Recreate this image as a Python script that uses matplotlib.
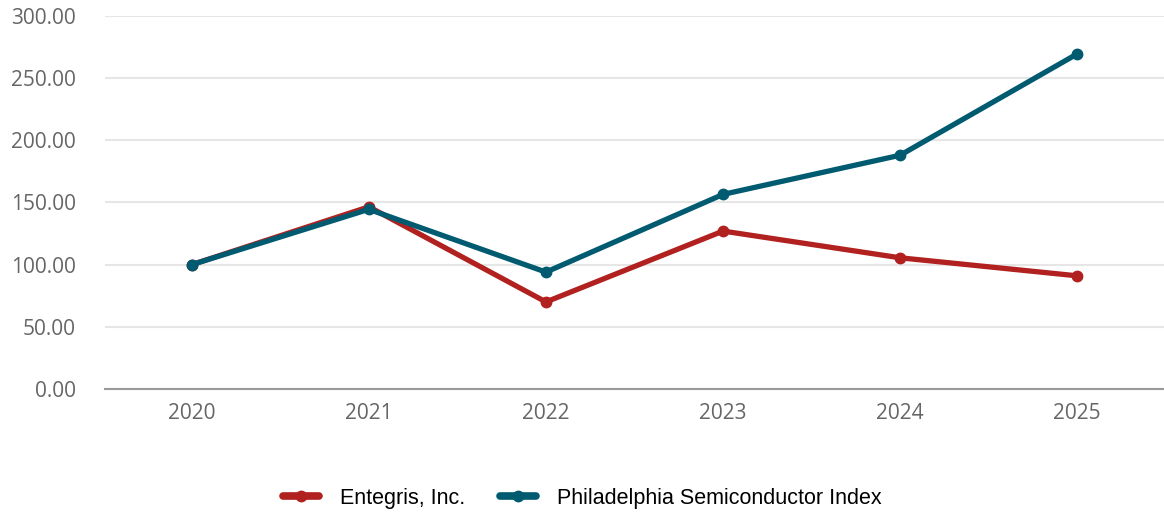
import matplotlib.pyplot as plt
from matplotlib.ticker import FormatStrFormatter

# ── Data ─────────────────────────────────────────────────────────────────────
YEARS    = ["2020", "2021", "2022", "2023", "2024", "2025"]
ENTEGRIS = [100.0, 146.5, 70.0, 127.0, 105.5, 91.0]
SOX      = [100.0, 144.5, 94.0, 156.5, 188.0, 269.5]

RED  = "#b0211f"
TEAL = "#005a70"

fig = plt.figure(figsize=(11.64, 5.15), dpi=100)
ax = fig.add_axes([0.0902, 0.2447, 0.9098, 0.7243])

x = range(len(YEARS))
ax.plot(x, ENTEGRIS, color=RED, lw=3.8, marker="o", ms=7.5,
        label="Entegris, Inc.", solid_capstyle="round")
ax.plot(x, SOX, color=TEAL, lw=3.8, marker="o", ms=7.5,
        label="Philadelphia Semiconductor Index", solid_capstyle="round")

ax.set_xlim(-0.49, len(YEARS) - 0.51)
ax.set_ylim(0, 300)
ax.set_yticks(range(0, 301, 50))
ax.yaxis.set_major_formatter(FormatStrFormatter("%.2f"))
ax.set_xticks(list(x))
ax.set_xticklabels(YEARS)

ax.grid(axis="y", color="#e6e6e6", lw=1.5)
ax.set_axisbelow(True)
for s in ["top", "right", "left"]:
    ax.spines[s].set_visible(False)
ax.spines["bottom"].set_color("#999999")
ax.spines["bottom"].set_linewidth(1.5)
ax.tick_params(length=0, labelsize=15, labelcolor="#666666")
for lab in ax.get_xticklabels() + ax.get_yticklabels():
    lab.set_family("Open Sans")
ax.tick_params(axis="y", pad=21)
ax.tick_params(axis="x", pad=10)

leg = fig.legend(loc="center", bbox_to_anchor=(0.5, 0.033), ncol=2,
                 frameon=False, handlelength=1.7, columnspacing=1.6,
                 handletextpad=0.95,
                 prop={"family": "Liberation Sans", "size": 15.5})
for h in leg.legend_handles:
    h.set_linewidth(5.5)

fig.savefig("out.png", dpi=100)
